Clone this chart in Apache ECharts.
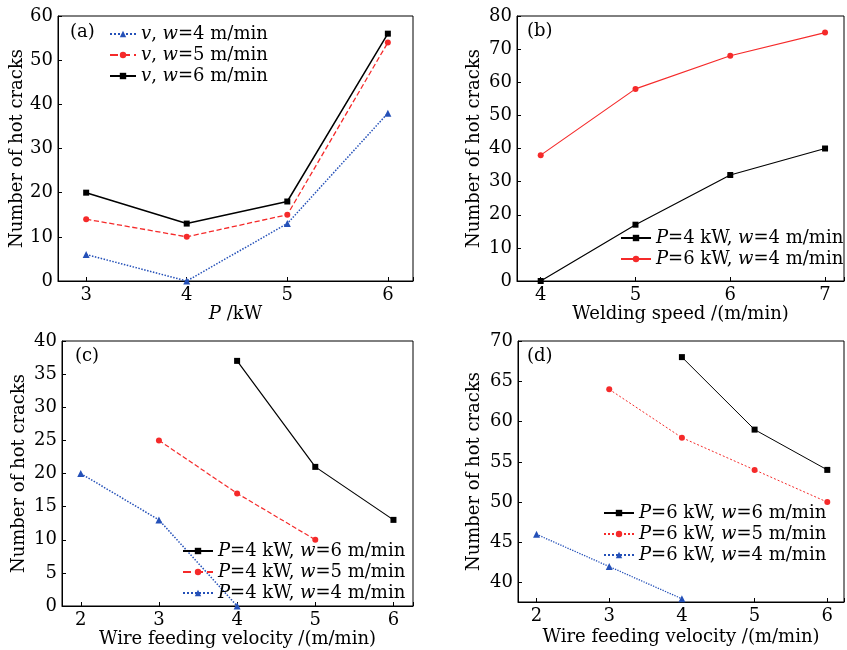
<!DOCTYPE html>
<html><head><meta charset="utf-8">
<script src="https://cdn.jsdelivr.net/npm/echarts@6/dist/echarts.min.js"></script>
<style>html,body{margin:0;padding:0;background:#fff}#c{width:847px;height:650px}</style>
</head><body><div id="c"></div>
<script>
// ---- data ----
const aX = [3, 4, 5, 6];
const aW4 = [6, 0, 13, 38];
const aW5 = [14, 10, 15, 54];
const aW6 = [20, 13, 18, 56];

const bX = [4, 5, 6, 7];
const bP4 = [0, 17, 32, 40];
const bP6 = [38, 58, 68, 75];

const cXw6 = [4, 5, 6];
const cW6 = [37, 21, 13];
const cXw5 = [3, 4, 5];
const cW5 = [25, 17, 10];
const cXw4 = [2, 3, 4];
const cW4 = [20, 13, 0];

const dXw6 = [4, 5, 6];
const dW6 = [68, 59, 54];
const dXw5 = [3, 4, 5, 6];
const dW5 = [64, 58, 54, 50];
const dXw4 = [2, 3, 4];
const dW4 = [46, 42, 38];

const legendText = {
  a1: '{i|v}, {i|w}=4 m/min', a2: '{i|v}, {i|w}=5 m/min', a3: '{i|v}, {i|w}=6 m/min',
  b1: '{i|P}=4 kW, {i|w}=4 m/min', b2: '{i|P}=6 kW, {i|w}=4 m/min',
  c1: '{i|P}=4 kW, {i|w}=6 m/min', c2: '{i|P}=4 kW, {i|w}=5 m/min', c3: '{i|P}=4 kW, {i|w}=4 m/min',
  d1: '{i|P}=6 kW, {i|w}=6 m/min', d2: '{i|P}=6 kW, {i|w}=5 m/min', d3: '{i|P}=6 kW, {i|w}=4 m/min'
};
const yName = 'Number of hot cracks';
const xNames = ['{i|P} /kW', 'Welding speed /(m/min)', 'Wire feeding velocity /(m/min)', 'Wire feeding velocity /(m/min)'];
const panelLabels = ['(a)', '(b)', '(c)', '(d)'];

// ---- styling ----
const FF = 'DejaVu Serif';
const FS = 18;
const BLACK = '#000', RED = '#f52a2a', BLUE = '#2450b8';
const zip = (xs, ys) => xs.map((x, i) => [x, ys[i]]);
const intOnly = v => (Math.abs(v - Math.round(v)) < 1e-6 ? String(Math.round(v)) : '');
const mult = m => v => (Math.abs(v / m - Math.round(v / m)) < 1e-6 ? String(Math.round(v)) : '');

const grids = [
  {left: 58, top: 16, width: 355, height: 265},
  {left: 517, top: 16, width: 329, height: 265},
  {left: 62, top: 341, width: 351, height: 265},
  {left: 518, top: 341, width: 328, height: 261}
].map(g => Object.assign({show: true, borderColor: '#000', borderWidth: 1, backgroundColor: 'transparent'}, g));

function xAxis(i, min, max, gap) {
  return {
    type: 'value', gridIndex: i, min, max, splitNumber: 4,
    name: xNames[i], nameLocation: 'middle', nameGap: gap,
    nameTextStyle: {fontFamily: FF, fontSize: FS, color: BLACK, rich: {i: {fontStyle: 'italic', fontFamily: FF, fontSize: FS}}},
    axisLine: {show: true, lineStyle: {color: BLACK, width: 1}},
    axisTick: {show: true, inside: true, length: 4, lineStyle: {color: BLACK}},
    axisLabel: {fontFamily: FF, fontSize: FS, color: BLACK, margin: 5, formatter: intOnly},
    splitLine: {show: false}
  };
}
function yAxis(i, min, max, opts) {
  return Object.assign({
    type: 'value', gridIndex: i, min, max,
    name: yName, nameLocation: 'middle',
    nameTextStyle: {fontFamily: FF, fontSize: FS, color: BLACK},
    axisLine: {show: true, lineStyle: {color: BLACK, width: 1}},
    axisTick: {show: true, inside: true, length: 4, lineStyle: {color: BLACK}},
    axisLabel: {fontFamily: FF, fontSize: FS, color: BLACK, margin: 5},
    splitLine: {show: false}
  }, opts);
}
function line(name, xi, data, color, sym, type, width, size) {
  return {
    type: 'line', name, xAxisIndex: xi, yAxisIndex: xi, data,
    symbol: sym, symbolSize: size || 6, showSymbol: true,
    lineStyle: {color, width: width || 1.3, type},
    itemStyle: {color},
    clip: false, animation: false
  };
}
function legend(names, left, top, itemWidth) {
  return {
    data: names, orient: 'vertical', left, top, padding: 0, itemGap: 1,
    itemWidth, itemHeight: 8, selectedMode: false,
    formatter: n => legendText[n],
    textStyle: {fontFamily: FF, fontSize: FS, color: BLACK, lineHeight: 20,
      rich: {i: {fontStyle: 'italic', fontFamily: FF, fontSize: FS, color: BLACK}}}
  };
}

const option = {
  backgroundColor: '#fff',
  animation: false,
  grid: grids,
  xAxis: [
    xAxis(0, 2.72, 6.25, 22),
    xAxis(1, 3.75, 7.2, 24),
    xAxis(2, 1.76, 6.25, 22),
    xAxis(3, 1.745, 6.23, 26)
  ],
  yAxis: [
    yAxis(0, 0, 60, {interval: 10, nameGap: 30}),
    yAxis(1, 0, 80, {interval: 10, nameGap: 34}),
    yAxis(2, 0, 40, {interval: 5, nameGap: 34}),
    yAxis(3, 37.6, 70, {splitNumber: 6, nameGap: 35, axisLabel: {fontFamily: FF, fontSize: FS, color: BLACK, margin: 5, formatter: mult(5)}})
  ],
  legend: [
    legend(['a1', 'a2', 'a3'], 109, 24, 26),
    legend(['b1', 'b2'], 620, 228, 30),
    legend(['c1', 'c2', 'c3'], 182, 541, 30),
    legend(['d1', 'd2', 'd3'], 603, 503, 30)
  ],
  series: [
    line('a1', 0, zip(aX, aW4), BLUE, 'triangle', 'dotted', 1.5, 7),
    line('a2', 0, zip(aX, aW5), RED, 'circle', 'dashed', 1.3),
    line('a3', 0, zip(aX, aW6), BLACK, 'rect', 'solid', 1.5),
    line('b1', 1, zip(bX, bP4), BLACK, 'rect', 'solid', 1.2),
    line('b2', 1, zip(bX, bP6), RED, 'circle', 'solid', 1.2),
    line('c1', 2, zip(cXw6, cW6), BLACK, 'rect', 'solid', 1.2),
    line('c2', 2, zip(cXw5, cW5), RED, 'circle', 'dashed', 1.2),
    line('c3', 2, zip(cXw4, cW4), BLUE, 'triangle', 'dotted', 1.5, 7),
    line('d1', 3, zip(dXw6, dW6), BLACK, 'rect', 'solid', 1),
    line('d2', 3, zip(dXw5, dW5), RED, 'circle', [2, 2], 1),
    line('d3', 3, zip(dXw4, dW4), BLUE, 'triangle', 'dotted', 1.3, 7)
  ],
  graphic: [
    {type: 'text', left: 70, top: 23, style: {text: panelLabels[0], font: FS + 'px "' + FF + '"', fill: BLACK}},
    {type: 'text', left: 527, top: 22, style: {text: panelLabels[1], font: FS + 'px "' + FF + '"', fill: BLACK}},
    {type: 'text', left: 75, top: 347, style: {text: panelLabels[2], font: FS + 'px "' + FF + '"', fill: BLACK}},
    {type: 'text', left: 527, top: 347, style: {text: panelLabels[3], font: FS + 'px "' + FF + '"', fill: BLACK}}
  ]
};
const chart = echarts.init(document.getElementById('c'), null, {renderer: 'canvas'});
chart.setOption(option);
</script></body></html>
